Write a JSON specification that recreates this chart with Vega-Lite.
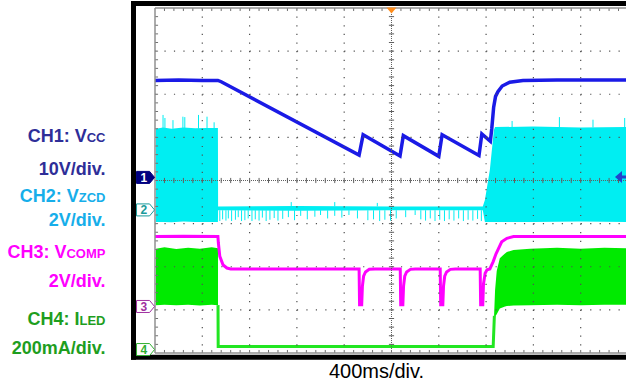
{
  "$schema": "https://vega.github.io/schema/vega-lite/v6.json",
  "width": 471,
  "height": 345,
  "autosize": {"type": "none"},
  "padding": {"left": 155, "top": 8, "right": 0, "bottom": 32},
  "background": "white",
  "config": {"view": {"stroke": null}, "axis": {"disable": true}, "legend": {"disable": true}},
  "datasets": {
    "ch1": [
      {"t": 0, "v": 6.32}, {"t": 0.5, "v": 6.33}, {"t": 1.0, "v": 6.32}, {"t": 1.33, "v": 6.32}, {"t": 1.4, "v": 6.29},
      {"t": 4.315, "v": 4.59}, {"t": 4.4, "v": 5.06}, {"t": 5.18, "v": 4.57}, {"t": 5.25, "v": 5.04},
      {"t": 6.0, "v": 4.56}, {"t": 6.07, "v": 5.06}, {"t": 6.85, "v": 4.58}, {"t": 6.91, "v": 5.08},
      {"t": 7.09, "v": 4.91}, {"t": 7.12, "v": 5.2}, {"t": 7.16, "v": 5.7}, {"t": 7.2, "v": 5.95},
      {"t": 7.25, "v": 6.06}, {"t": 7.34, "v": 6.19}, {"t": 7.5, "v": 6.28}, {"t": 7.78, "v": 6.32},
      {"t": 8.5, "v": 6.33}, {"t": 9.2, "v": 6.33}, {"t": 9.958, "v": 6.33}
    ],
    "ch2band": [
      {"t": 0.02, "hi": 5.2, "lo": 3.04}, {"t": 0.17, "hi": 5.23, "lo": 3.04}, {"t": 0.35, "hi": 5.2, "lo": 3.03},
      {"t": 0.6, "hi": 5.23, "lo": 3.05}, {"t": 0.85, "hi": 5.21, "lo": 3.04}, {"t": 1.1, "hi": 5.22, "lo": 3.04},
      {"t": 1.33, "hi": 5.22, "lo": 3.04}, {"t": 1.334, "hi": 3.4, "lo": 3.31}, {"t": 3.0, "hi": 3.41, "lo": 3.3},
      {"t": 5.0, "hi": 3.4, "lo": 3.31}, {"t": 6.93, "hi": 3.4, "lo": 3.31}, {"t": 6.975, "hi": 3.55, "lo": 3.04},
      {"t": 7.08, "hi": 4.25, "lo": 3.04}, {"t": 7.165, "hi": 5.17, "lo": 3.04}, {"t": 7.19, "hi": 5.24, "lo": 3.04},
      {"t": 8.0, "hi": 5.25, "lo": 3.04}, {"t": 9.0, "hi": 5.23, "lo": 3.05}, {"t": 9.958, "hi": 5.24, "lo": 3.04}
    ],
    "ch2spikes": [
      {"t": 0.17, "v1": 5.2, "v2": 5.52}, {"t": 0.21, "v1": 5.2, "v2": 5.45}, {"t": 0.38, "v1": 5.2, "v2": 5.4},
      {"t": 0.59, "v1": 5.2, "v2": 5.48}, {"t": 0.63, "v1": 5.2, "v2": 5.47}, {"t": 0.92, "v1": 5.2, "v2": 5.52},
      {"t": 1.1, "v1": 5.2, "v2": 5.48}, {"t": 1.25, "v1": 5.2, "v2": 5.35},
      {"t": 7.55, "v1": 5.23, "v2": 5.38}, {"t": 8.55, "v1": 5.23, "v2": 5.47}, {"t": 9.26, "v1": 5.23, "v2": 5.41}, {"t": 9.93, "v1": 5.23, "v2": 5.45},
      {"t": 2.88, "v1": 3.4, "v2": 3.5}, {"t": 3.8, "v1": 3.4, "v2": 3.5}, {"t": 4.7, "v1": 3.4, "v2": 3.48},
      {"t": 1.37, "v1": 3.31, "v2": 3.06}, {"t": 1.43, "v1": 3.31, "v2": 3.1}, {"t": 1.5, "v1": 3.31, "v2": 3.07},
      {"t": 1.55, "v1": 3.31, "v2": 3.12}, {"t": 1.62, "v1": 3.31, "v2": 3.06}, {"t": 1.7, "v1": 3.31, "v2": 3.09},
      {"t": 1.76, "v1": 3.31, "v2": 3.15}, {"t": 1.83, "v1": 3.31, "v2": 3.06}, {"t": 1.9, "v1": 3.31, "v2": 3.08},
      {"t": 1.97, "v1": 3.31, "v2": 3.12}, {"t": 2.05, "v1": 3.31, "v2": 3.06}, {"t": 2.12, "v1": 3.31, "v2": 3.1},
      {"t": 2.2, "v1": 3.31, "v2": 3.07}, {"t": 2.27, "v1": 3.31, "v2": 3.14}, {"t": 2.35, "v1": 3.31, "v2": 3.06},
      {"t": 2.43, "v1": 3.31, "v2": 3.09}, {"t": 2.52, "v1": 3.31, "v2": 3.13}, {"t": 2.6, "v1": 3.31, "v2": 3.07},
      {"t": 2.7, "v1": 3.31, "v2": 3.11}, {"t": 2.82, "v1": 3.31, "v2": 3.15}, {"t": 2.95, "v1": 3.31, "v2": 3.08},
      {"t": 3.08, "v1": 3.31, "v2": 3.18}, {"t": 3.22, "v1": 3.31, "v2": 3.1}, {"t": 3.38, "v1": 3.31, "v2": 3.16},
      {"t": 3.5, "v1": 3.31, "v2": 3.2}, {"t": 3.65, "v1": 3.31, "v2": 3.12}, {"t": 3.8, "v1": 3.31, "v2": 3.18},
      {"t": 3.95, "v1": 3.31, "v2": 3.14}, {"t": 4.1, "v1": 3.31, "v2": 3.2}, {"t": 4.28, "v1": 3.31, "v2": 3.12},
      {"t": 4.5, "v1": 3.31, "v2": 3.08}, {"t": 4.62, "v1": 3.31, "v2": 3.1}, {"t": 4.75, "v1": 3.31, "v2": 3.06},
      {"t": 4.86, "v1": 3.31, "v2": 3.09}, {"t": 4.98, "v1": 3.31, "v2": 3.07}, {"t": 5.1, "v1": 3.31, "v2": 3.12},
      {"t": 5.3, "v1": 3.31, "v2": 3.15}, {"t": 5.5, "v1": 3.31, "v2": 3.2}, {"t": 5.62, "v1": 3.31, "v2": 3.1},
      {"t": 5.72, "v1": 3.31, "v2": 3.07}, {"t": 5.82, "v1": 3.31, "v2": 3.12}, {"t": 5.92, "v1": 3.31, "v2": 3.06},
      {"t": 6.02, "v1": 3.31, "v2": 3.09}, {"t": 6.12, "v1": 3.31, "v2": 3.06}, {"t": 6.22, "v1": 3.31, "v2": 3.1},
      {"t": 6.32, "v1": 3.31, "v2": 3.07}, {"t": 6.42, "v1": 3.31, "v2": 3.12}, {"t": 6.52, "v1": 3.31, "v2": 3.06},
      {"t": 6.62, "v1": 3.31, "v2": 3.09}, {"t": 6.72, "v1": 3.31, "v2": 3.07}, {"t": 6.82, "v1": 3.31, "v2": 3.11},
      {"t": 6.9, "v1": 3.31, "v2": 3.06}
    ],
    "ch3": [
      {"t": 0, "v": 2.7}, {"t": 0.6, "v": 2.71}, {"t": 1.33, "v": 2.7}, {"t": 1.34, "v": 2.55}, {"t": 1.37, "v": 2.24},
      {"t": 1.44, "v": 2.04}, {"t": 1.52, "v": 1.97}, {"t": 1.6, "v": 1.95}, {"t": 3.0, "v": 1.95}, {"t": 4.315, "v": 1.95},
      {"t": 4.325, "v": 1.12}, {"t": 4.37, "v": 1.12}, {"t": 4.385, "v": 1.55}, {"t": 4.41, "v": 1.78}, {"t": 4.45, "v": 1.88},
      {"t": 4.53, "v": 1.94}, {"t": 4.65, "v": 1.95}, {"t": 5.185, "v": 1.95}, {"t": 5.195, "v": 1.12}, {"t": 5.24, "v": 1.12},
      {"t": 5.255, "v": 1.55}, {"t": 5.28, "v": 1.78}, {"t": 5.32, "v": 1.88}, {"t": 5.4, "v": 1.94}, {"t": 5.5, "v": 1.95},
      {"t": 6.03, "v": 1.95}, {"t": 6.04, "v": 1.12}, {"t": 6.085, "v": 1.12}, {"t": 6.1, "v": 1.55}, {"t": 6.125, "v": 1.78},
      {"t": 6.165, "v": 1.88}, {"t": 6.245, "v": 1.94}, {"t": 6.35, "v": 1.95}, {"t": 6.875, "v": 1.95}, {"t": 6.885, "v": 1.12},
      {"t": 6.93, "v": 1.12}, {"t": 6.945, "v": 1.6}, {"t": 6.98, "v": 1.85}, {"t": 7.02, "v": 1.93}, {"t": 7.08, "v": 1.95},
      {"t": 7.15, "v": 2.12}, {"t": 7.21, "v": 2.3}, {"t": 7.33, "v": 2.58}, {"t": 7.44, "v": 2.66}, {"t": 7.58, "v": 2.7},
      {"t": 8.5, "v": 2.7}, {"t": 9.958, "v": 2.7}
    ],
    "ch4band": [
      {"seg": "a", "t": 0.02, "hi": 2.42, "lo": 1.11}, {"seg": "a", "t": 0.2, "hi": 2.45, "lo": 1.12},
      {"seg": "a", "t": 0.45, "hi": 2.41, "lo": 1.11}, {"seg": "a", "t": 0.7, "hi": 2.44, "lo": 1.12},
      {"seg": "a", "t": 0.95, "hi": 2.42, "lo": 1.1}, {"seg": "a", "t": 1.2, "hi": 2.45, "lo": 1.12},
      {"seg": "a", "t": 1.332, "hi": 2.43, "lo": 1.11},
      {"seg": "b", "t": 7.17, "hi": 0.9, "lo": 0.84}, {"seg": "b", "t": 7.19, "hi": 1.46, "lo": 0.84},
      {"seg": "b", "t": 7.225, "hi": 1.9, "lo": 0.9}, {"seg": "b", "t": 7.29, "hi": 2.2, "lo": 1.03},
      {"seg": "b", "t": 7.4, "hi": 2.31, "lo": 1.08}, {"seg": "b", "t": 7.44, "hi": 2.34, "lo": 1.09},
      {"seg": "b", "t": 7.58, "hi": 2.39, "lo": 1.1}, {"seg": "b", "t": 7.93, "hi": 2.42, "lo": 1.11},
      {"seg": "b", "t": 8.5, "hi": 2.44, "lo": 1.12}, {"seg": "b", "t": 9.0, "hi": 2.42, "lo": 1.11},
      {"seg": "b", "t": 9.5, "hi": 2.44, "lo": 1.12}, {"seg": "b", "t": 9.958, "hi": 2.43, "lo": 1.12}
    ],
    "ch4line": [
      {"t": 1.332, "v": 1.11}, {"t": 1.336, "v": 0.15}, {"t": 3.0, "v": 0.15}, {"t": 5.0, "v": 0.15},
      {"t": 7.15, "v": 0.15}, {"t": 7.175, "v": 0.86}
    ],
    "gx": [{"t": 1}, {"t": 2}, {"t": 3}, {"t": 4}, {"t": 6}, {"t": 7}, {"t": 8}, {"t": 9}],
    "gy": [{"v": 1}, {"v": 2}, {"v": 3}, {"v": 5}, {"v": 6}, {"v": 7}],
    "tx": [
      {"t": 0.2}, {"t": 0.4}, {"t": 0.6}, {"t": 0.8}, {"t": 1}, {"t": 1.2}, {"t": 1.4}, {"t": 1.6}, {"t": 1.8}, {"t": 2},
      {"t": 2.2}, {"t": 2.4}, {"t": 2.6}, {"t": 2.8}, {"t": 3}, {"t": 3.2}, {"t": 3.4}, {"t": 3.6}, {"t": 3.8}, {"t": 4},
      {"t": 4.2}, {"t": 4.4}, {"t": 4.6}, {"t": 4.8}, {"t": 5}, {"t": 5.2}, {"t": 5.4}, {"t": 5.6}, {"t": 5.8}, {"t": 6},
      {"t": 6.2}, {"t": 6.4}, {"t": 6.6}, {"t": 6.8}, {"t": 7}, {"t": 7.2}, {"t": 7.4}, {"t": 7.6}, {"t": 7.8}, {"t": 8},
      {"t": 8.2}, {"t": 8.4}, {"t": 8.6}, {"t": 8.8}, {"t": 9}, {"t": 9.2}, {"t": 9.4}, {"t": 9.6}, {"t": 9.8}
    ],
    "tv": [
      {"v": 0.2}, {"v": 0.4}, {"v": 0.6}, {"v": 0.8}, {"v": 1}, {"v": 1.2}, {"v": 1.4}, {"v": 1.6}, {"v": 1.8}, {"v": 2},
      {"v": 2.2}, {"v": 2.4}, {"v": 2.6}, {"v": 2.8}, {"v": 3}, {"v": 3.2}, {"v": 3.4}, {"v": 3.6}, {"v": 3.8}, {"v": 4},
      {"v": 4.2}, {"v": 4.4}, {"v": 4.6}, {"v": 4.8}, {"v": 5}, {"v": 5.2}, {"v": 5.4}, {"v": 5.6}, {"v": 5.8}, {"v": 6},
      {"v": 6.2}, {"v": 6.4}, {"v": 6.6}, {"v": 6.8}, {"v": 7}, {"v": 7.2}, {"v": 7.4}, {"v": 7.6}, {"v": 7.8}
    ],
    "markers": [
      {"ch": "1", "v": 4.072}, {"ch": "2", "v": 3.318}, {"ch": "3", "v": 1.079}, {"ch": "4", "v": 0.08}
    ],
    "labels": [
      {"txt": "CH1: V", "ch": "CH1", "t": -1.444, "v": 4.9},
      {"txt": "10V/div.", "ch": "CH1", "t": -1.047, "v": 4.13},
      {"txt": "CH2: V", "ch": "CH2", "t": -1.611, "v": 3.51},
      {"txt": "2V/div.", "ch": "CH2", "t": -1.047, "v": 2.95},
      {"txt": "CH3: V", "ch": "CH3", "t": -1.871, "v": 2.2},
      {"txt": "2V/div.", "ch": "CH3", "t": -1.047, "v": 1.53},
      {"txt": "CH4: I", "ch": "CH4", "t": -1.596, "v": 0.65},
      {"txt": "200mA/div.", "ch": "CH4", "t": -1.047, "v": -0.02}
    ],
    "subs": [
      {"txt": "CC", "ch": "CH1", "t": -1.047, "v": 4.9},
      {"txt": "ZCD", "ch": "CH2", "t": -1.047, "v": 3.51},
      {"txt": "COMP", "ch": "CH3", "t": -1.047, "v": 2.2},
      {"txt": "LED", "ch": "CH4", "t": -1.047, "v": 0.65}
    ]
  },
  "layer": [
    {
      "data": {"name": "ch2band"},
      "mark": {"type": "area", "color": "#00EEF2", "opacity": 1},
      "encoding": {
        "x": {"field": "t", "type": "quantitative", "scale": {"domain": [0, 9.958], "nice": false, "zero": false}, "axis": null},
        "y": {"field": "hi", "type": "quantitative", "scale": {"domain": [0, 8], "nice": false, "zero": false}, "axis": null},
        "y2": {"field": "lo"}
      }
    },
    {
      "data": {"name": "ch2spikes"},
      "mark": {"type": "rule", "color": "#00EEF2", "strokeWidth": 1},
      "encoding": {
        "x": {"field": "t", "type": "quantitative", "scale": {"domain": [0, 9.958], "nice": false, "zero": false}, "axis": null},
        "y": {"field": "v1", "type": "quantitative", "scale": {"domain": [0, 8], "nice": false, "zero": false}, "axis": null},
        "y2": {"field": "v2"}
      }
    },
    {
      "data": {"name": "ch4band"},
      "mark": {"type": "area", "color": "#00EA00", "opacity": 1},
      "encoding": {
        "x": {"field": "t", "type": "quantitative", "scale": {"domain": [0, 9.958], "nice": false, "zero": false}, "axis": null},
        "y": {"field": "hi", "type": "quantitative", "scale": {"domain": [0, 8], "nice": false, "zero": false}, "axis": null},
        "y2": {"field": "lo"},
        "detail": {"field": "seg"}
      }
    },
    {
      "data": {"name": "ch4line"},
      "mark": {"type": "line", "color": "#22E622", "strokeWidth": 3},
      "encoding": {
        "x": {"field": "t", "type": "quantitative", "scale": {"domain": [0, 9.958], "nice": false, "zero": false}, "axis": null},
        "y": {"field": "v", "type": "quantitative", "scale": {"domain": [0, 8], "nice": false, "zero": false}, "axis": null}
      }
    },
    {
      "data": {"name": "ch3"},
      "mark": {"type": "line", "color": "#FF00FF", "strokeWidth": 3},
      "encoding": {
        "x": {"field": "t", "type": "quantitative", "scale": {"domain": [0, 9.958], "nice": false, "zero": false}, "axis": null},
        "y": {"field": "v", "type": "quantitative", "scale": {"domain": [0, 8], "nice": false, "zero": false}, "axis": null}
      }
    },
    {
      "data": {"name": "ch1"},
      "mark": {"type": "line", "color": "#1A1AE6", "strokeWidth": 3.5},
      "encoding": {
        "x": {"field": "t", "type": "quantitative", "scale": {"domain": [0, 9.958], "nice": false, "zero": false}, "axis": null},
        "y": {"field": "v", "type": "quantitative", "scale": {"domain": [0, 8], "nice": false, "zero": false}, "axis": null}
      }
    },
    {
      "data": {"name": "gx"},
      "mark": {"type": "rule", "color": "#505050", "strokeWidth": 1.2, "strokeDash": [1.2, 7.42]},
      "encoding": {
        "x": {"field": "t", "type": "quantitative", "scale": {"domain": [0, 9.958], "nice": false, "zero": false}, "axis": null},
        "y": {"datum": 8, "type": "quantitative", "scale": {"domain": [0, 8], "nice": false, "zero": false}, "axis": null},
        "y2": {"datum": 0}
      }
    },
    {
      "data": {"name": "gy"},
      "mark": {"type": "rule", "color": "#505050", "strokeWidth": 1.2, "strokeDash": [1.2, 8.26]},
      "encoding": {
        "x": {"datum": 0, "type": "quantitative", "scale": {"domain": [0, 9.958], "nice": false, "zero": false}, "axis": null},
        "x2": {"datum": 9.958},
        "y": {"field": "v", "type": "quantitative", "scale": {"domain": [0, 8], "nice": false, "zero": false}, "axis": null}
      }
    },
    {
      "data": {"values": [{}]},
      "mark": {"type": "rule", "color": "#606060", "strokeWidth": 1, "strokeDash": [1, 1]},
      "encoding": {
        "x": {"datum": 0, "type": "quantitative", "scale": {"domain": [0, 9.958], "nice": false, "zero": false}, "axis": null},
        "x2": {"datum": 9.958},
        "y": {"datum": 4, "type": "quantitative", "scale": {"domain": [0, 8], "nice": false, "zero": false}, "axis": null}
      }
    },
    {
      "data": {"values": [{}]},
      "mark": {"type": "rule", "color": "#606060", "strokeWidth": 1, "strokeDash": [1, 1]},
      "encoding": {
        "x": {"datum": 5, "type": "quantitative", "scale": {"domain": [0, 9.958], "nice": false, "zero": false}, "axis": null},
        "y": {"datum": 0, "type": "quantitative", "scale": {"domain": [0, 8], "nice": false, "zero": false}, "axis": null},
        "y2": {"datum": 8}
      }
    },
    {
      "data": {"name": "tx"},
      "mark": {"type": "rule", "color": "#707070", "strokeWidth": 1},
      "encoding": {
        "x": {"field": "t", "type": "quantitative", "scale": {"domain": [0, 9.958], "nice": false, "zero": false}, "axis": null},
        "y": {"datum": 8, "type": "quantitative", "scale": {"domain": [0, 8], "nice": false, "zero": false}, "axis": null},
        "y2": {"datum": 7.93}
      }
    },
    {
      "data": {"name": "tx"},
      "mark": {"type": "rule", "color": "#707070", "strokeWidth": 1},
      "encoding": {
        "x": {"field": "t", "type": "quantitative", "scale": {"domain": [0, 9.958], "nice": false, "zero": false}, "axis": null},
        "y": {"datum": 0, "type": "quantitative", "scale": {"domain": [0, 8], "nice": false, "zero": false}, "axis": null},
        "y2": {"datum": 0.07}
      }
    },
    {
      "data": {"name": "tx"},
      "mark": {"type": "rule", "color": "#606060", "strokeWidth": 1},
      "encoding": {
        "x": {"field": "t", "type": "quantitative", "scale": {"domain": [0, 9.958], "nice": false, "zero": false}, "axis": null},
        "y": {"datum": 3.94, "type": "quantitative", "scale": {"domain": [0, 8], "nice": false, "zero": false}, "axis": null},
        "y2": {"datum": 4.06}
      }
    },
    {
      "data": {"name": "tv"},
      "mark": {"type": "rule", "color": "#707070", "strokeWidth": 1},
      "encoding": {
        "x": {"datum": 0, "type": "quantitative", "scale": {"domain": [0, 9.958], "nice": false, "zero": false}, "axis": null},
        "x2": {"datum": 0.065},
        "y": {"field": "v", "type": "quantitative", "scale": {"domain": [0, 8], "nice": false, "zero": false}, "axis": null}
      }
    },
    {
      "data": {"name": "tv"},
      "mark": {"type": "rule", "color": "#606060", "strokeWidth": 1},
      "encoding": {
        "x": {"datum": 4.945, "type": "quantitative", "scale": {"domain": [0, 9.958], "nice": false, "zero": false}, "axis": null},
        "x2": {"datum": 5.055},
        "y": {"field": "v", "type": "quantitative", "scale": {"domain": [0, 8], "nice": false, "zero": false}, "axis": null}
      }
    },
    {
      "data": {"values": [{}]},
      "mark": {"type": "rule", "color": "#909090", "strokeWidth": 1.5},
      "encoding": {
        "x": {"datum": 0, "type": "quantitative", "scale": {"domain": [0, 9.958], "nice": false, "zero": false}, "axis": null},
        "x2": {"datum": 9.958},
        "y": {"datum": 8, "type": "quantitative", "scale": {"domain": [0, 8], "nice": false, "zero": false}, "axis": null}
      }
    },
    {
      "data": {"values": [{}]},
      "mark": {"type": "rule", "color": "#909090", "strokeWidth": 1.5},
      "encoding": {
        "x": {"datum": 0, "type": "quantitative", "scale": {"domain": [0, 9.958], "nice": false, "zero": false}, "axis": null},
        "x2": {"datum": 9.958},
        "y": {"datum": 0, "type": "quantitative", "scale": {"domain": [0, 8], "nice": false, "zero": false}, "axis": null}
      }
    },
    {
      "data": {"values": [{}]},
      "mark": {"type": "rule", "color": "#909090", "strokeWidth": 1.5},
      "encoding": {
        "x": {"datum": 0, "type": "quantitative", "scale": {"domain": [0, 9.958], "nice": false, "zero": false}, "axis": null},
        "y": {"datum": 0, "type": "quantitative", "scale": {"domain": [0, 8], "nice": false, "zero": false}, "axis": null},
        "y2": {"datum": 8}
      }
    },
    {
      "data": {"values": [{}]},
      "mark": {"type": "rule", "color": "black", "strokeWidth": 5, "strokeCap": "square"},
      "encoding": {
        "x": {"datum": -0.4545, "type": "quantitative", "scale": {"domain": [0, 9.958], "nice": false, "zero": false}, "axis": null},
        "y": {"datum": 8.105, "type": "quantitative", "scale": {"domain": [0, 8], "nice": false, "zero": false}, "axis": null},
        "y2": {"datum": -0.1}
      }
    },
    {
      "data": {"values": [{}]},
      "mark": {"type": "rule", "color": "black", "strokeWidth": 5, "strokeCap": "square"},
      "encoding": {
        "x": {"datum": -0.4545, "type": "quantitative", "scale": {"domain": [0, 9.958], "nice": false, "zero": false}, "axis": null},
        "x2": {"datum": 10.2},
        "y": {"datum": 8.105, "type": "quantitative", "scale": {"domain": [0, 8], "nice": false, "zero": false}, "axis": null}
      }
    },
    {
      "data": {"values": [{}]},
      "mark": {"type": "rule", "color": "black", "strokeWidth": 5, "strokeCap": "square"},
      "encoding": {
        "x": {"datum": -0.4545, "type": "quantitative", "scale": {"domain": [0, 9.958], "nice": false, "zero": false}, "axis": null},
        "x2": {"datum": 10.2},
        "y": {"datum": -0.1, "type": "quantitative", "scale": {"domain": [0, 8], "nice": false, "zero": false}, "axis": null}
      }
    },
    {
      "data": {"name": "markers"},
      "mark": {"type": "point", "shape": "M-1,-0.667L0.45,-0.667L1,0L0.45,0.667L-1,0.667Z", "size": 324, "strokeWidth": 1, "opacity": 1, "filled": false},
      "encoding": {
        "x": {"datum": -0.2, "type": "quantitative", "scale": {"domain": [0, 9.958], "nice": false, "zero": false}, "axis": null},
        "y": {"field": "v", "type": "quantitative", "scale": {"domain": [0, 8], "nice": false, "zero": false}, "axis": null},
        "fill": {"field": "ch", "type": "nominal", "scale": {"domain": ["1", "2", "3", "4"], "range": ["#000080", "#FFFFFF", "#FFFFFF", "#FFFFFF"]}, "legend": null},
        "stroke": {"field": "ch", "type": "nominal", "scale": {"domain": ["1", "2", "3", "4"], "range": ["#000080", "#1A9A9A", "#A030A0", "#30B030"]}, "legend": null}
      }
    },
    {
      "data": {"name": "markers"},
      "mark": {"type": "text", "font": "Liberation Sans", "fontSize": 12, "fontWeight": "bold", "align": "center", "baseline": "middle", "dy": 0.5},
      "encoding": {
        "x": {"datum": -0.235, "type": "quantitative", "scale": {"domain": [0, 9.958], "nice": false, "zero": false}, "axis": null},
        "y": {"field": "v", "type": "quantitative", "scale": {"domain": [0, 8], "nice": false, "zero": false}, "axis": null},
        "text": {"field": "ch"},
        "color": {"field": "ch", "type": "nominal", "scale": {"domain": ["1", "2", "3", "4"], "range": ["#FFFFFF", "#1A9A9A", "#A030A0", "#30B030"]}, "legend": null}
      }
    },
    {
      "data": {"values": [{}]},
      "mark": {"type": "point", "shape": "M-1,-0.6L1,-0.6L0,0.6Z", "size": 100, "filled": true, "color": "#FF8C1A", "opacity": 1},
      "encoding": {
        "x": {"datum": 5.0, "type": "quantitative", "scale": {"domain": [0, 9.958], "nice": false, "zero": false}, "axis": null},
        "y": {"datum": 7.94, "type": "quantitative", "scale": {"domain": [0, 8], "nice": false, "zero": false}, "axis": null}
      }
    },
    {
      "data": {"values": [{}]},
      "mark": {"type": "point", "shape": "M-0.5,0L0.14,-0.55L0.14,-0.14L0.6,-0.14L0.6,0.14L0.14,0.14L0.14,0.55Z", "size": 484, "filled": true, "color": "#2244CC", "opacity": 1},
      "encoding": {
        "x": {"datum": 9.841, "type": "quantitative", "scale": {"domain": [0, 9.958], "nice": false, "zero": false}, "axis": null},
        "y": {"datum": 4.08, "type": "quantitative", "scale": {"domain": [0, 8], "nice": false, "zero": false}, "axis": null}
      }
    },
    {
      "data": {"name": "labels"},
      "mark": {"type": "text", "font": "Liberation Sans", "fontSize": 18, "fontWeight": "bold", "align": "right", "baseline": "alphabetic"},
      "encoding": {
        "x": {"field": "t", "type": "quantitative", "scale": {"domain": [0, 9.958], "nice": false, "zero": false}, "axis": null},
        "y": {"field": "v", "type": "quantitative", "scale": {"domain": [0, 8], "nice": false, "zero": false}, "axis": null},
        "text": {"field": "txt"},
        "color": {"field": "ch", "type": "nominal", "scale": {"domain": ["CH1", "CH2", "CH3", "CH4"], "range": ["#2E2E98", "#16AEEA", "#FF00FF", "#1E9E1E"]}, "legend": null}
      }
    },
    {
      "data": {"name": "subs"},
      "mark": {"type": "text", "font": "Liberation Sans", "fontSize": 13, "fontWeight": "bold", "align": "right", "baseline": "alphabetic"},
      "encoding": {
        "x": {"field": "t", "type": "quantitative", "scale": {"domain": [0, 9.958], "nice": false, "zero": false}, "axis": null},
        "y": {"field": "v", "type": "quantitative", "scale": {"domain": [0, 8], "nice": false, "zero": false}, "axis": null},
        "text": {"field": "txt"},
        "color": {"field": "ch", "type": "nominal", "scale": {"domain": ["CH1", "CH2", "CH3", "CH4"], "range": ["#2E2E98", "#16AEEA", "#FF00FF", "#1E9E1E"]}, "legend": null}
      }
    },
    {
      "data": {"values": [{"txt": "400ms/div."}]},
      "mark": {"type": "text", "font": "Liberation Sans", "fontSize": 20, "align": "center", "baseline": "alphabetic", "color": "black"},
      "encoding": {
        "x": {"datum": 4.683, "type": "quantitative", "scale": {"domain": [0, 9.958], "nice": false, "zero": false}, "axis": null},
        "y": {"datum": -0.58, "type": "quantitative", "scale": {"domain": [0, 8], "nice": false, "zero": false}, "axis": null},
        "text": {"field": "txt"}
      }
    }
  ],
  "resolve": {"scale": {"color": "independent", "fill": "independent", "stroke": "independent"}}
}
